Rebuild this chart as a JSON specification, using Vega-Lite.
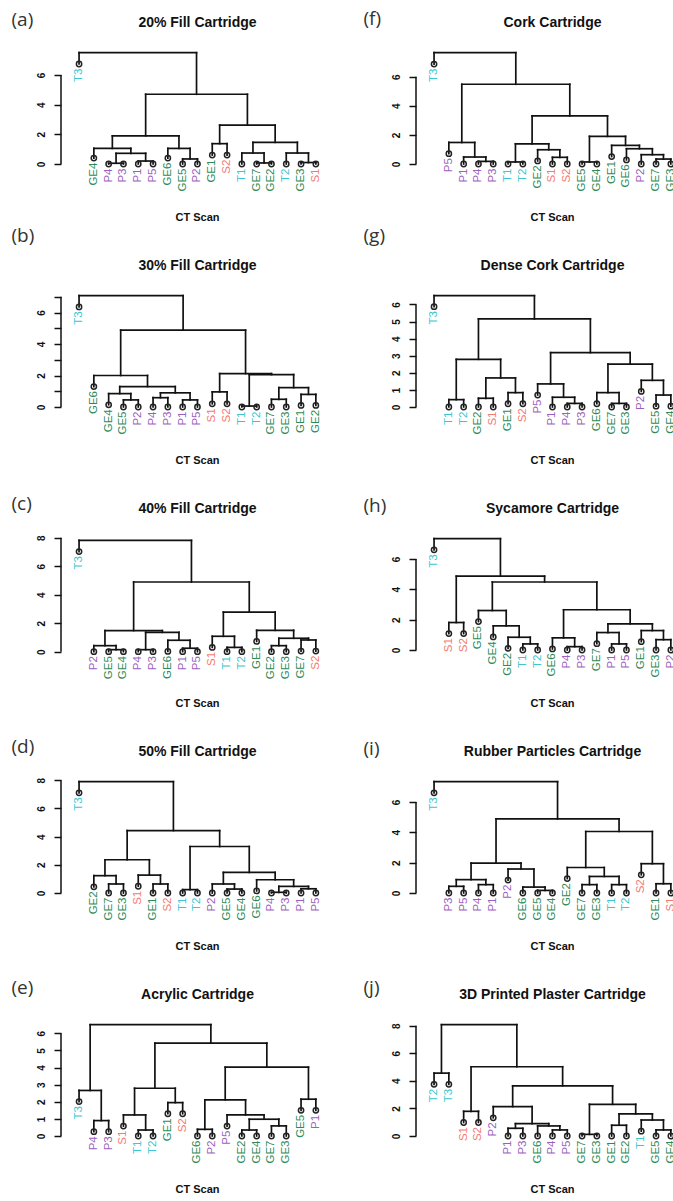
{
"$schema":"https://vega.github.io/schema/vega-lite/v6.json",
"padding":{"left":11,"top":9,"right":0,"bottom":0},
"background":"white",
"columns":2,
"bounds":"flush",
"spacing":{"row":98,"column":98},
"config":{
 "view":{"stroke":null},
 "font":"Liberation Sans",
 "axis":{"grid":false,"domain":false,"labelColor":"#111","titleColor":"#111","tickColor":"#111"},
 "axisLeft":{"tickSize":7,"tickWidth":1.5,"labelAngle":270,"labelAlign":"center","labelBaseline":"bottom","labelPadding":8,"labelOverlap":false,"labelFlush":false,"labelFont":"Liberation Sans","labelFontSize":10,"labelFontWeight":"bold","titleAngle":0,"titleAlign":"left","titleBaseline":"alphabetic","titleFont":"Open Sans","titleFontSize":19,"titleFontWeight":"normal","titleColor":"#333"},
 "axisBottom":{"labels":false,"ticks":false,"titleAlign":"center","titleBaseline":"alphabetic","titleFont":"Liberation Sans","titleFontSize":11,"titleFontWeight":"bold"},
 "axisTop":{"labels":false,"ticks":false,"titleAlign":"center","titleBaseline":"alphabetic","titleFont":"Liberation Sans","titleFontSize":14,"titleFontWeight":"bold"}
},
"datasets":{
"leaves":[
{"p":"a","i":1,"l":"T3","g":"T","h":6.74},{"p":"a","i":2,"l":"GE4","g":"GE","h":0.4},{"p":"a","i":3,"l":"P4","g":"P","h":0},{"p":"a","i":4,"l":"P3","g":"P","h":0},{"p":"a","i":5,"l":"P1","g":"P","h":0},{"p":"a","i":6,"l":"P5","g":"P","h":0},{"p":"a","i":7,"l":"GE6","g":"GE","h":0.4},{"p":"a","i":8,"l":"GE5","g":"GE","h":0},{"p":"a","i":9,"l":"P2","g":"P","h":0},{"p":"a","i":10,"l":"GE1","g":"GE","h":0.6},{"p":"a","i":11,"l":"S2","g":"S","h":0.6},{"p":"a","i":12,"l":"T1","g":"T","h":0},{"p":"a","i":13,"l":"GE7","g":"GE","h":0},{"p":"a","i":14,"l":"GE2","g":"GE","h":0},{"p":"a","i":15,"l":"T2","g":"T","h":0},{"p":"a","i":16,"l":"GE3","g":"GE","h":0},{"p":"a","i":17,"l":"S1","g":"S","h":0},
{"p":"f","i":1,"l":"T3","g":"T","h":6.87},{"p":"f","i":2,"l":"P5","g":"P","h":0.71},{"p":"f","i":3,"l":"P1","g":"P","h":0},{"p":"f","i":4,"l":"P4","g":"P","h":0},{"p":"f","i":5,"l":"P3","g":"P","h":0},{"p":"f","i":6,"l":"T1","g":"T","h":0},{"p":"f","i":7,"l":"T2","g":"T","h":0},{"p":"f","i":8,"l":"GE2","g":"GE","h":0.21},{"p":"f","i":9,"l":"S1","g":"S","h":0},{"p":"f","i":10,"l":"S2","g":"S","h":0},{"p":"f","i":11,"l":"GE5","g":"GE","h":0},{"p":"f","i":12,"l":"GE4","g":"GE","h":0},{"p":"f","i":13,"l":"GE1","g":"GE","h":0.51},{"p":"f","i":14,"l":"GE6","g":"GE","h":0.28},{"p":"f","i":15,"l":"P2","g":"P","h":0},{"p":"f","i":16,"l":"GE7","g":"GE","h":0},{"p":"f","i":17,"l":"GE3","g":"GE","h":0},
{"p":"b","i":1,"l":"T3","g":"T","h":6.36},{"p":"b","i":2,"l":"GE6","g":"GE","h":1.3},{"p":"b","i":3,"l":"GE4","g":"GE","h":0.14},{"p":"b","i":4,"l":"GE5","g":"GE","h":0},{"p":"b","i":5,"l":"P2","g":"P","h":0},{"p":"b","i":6,"l":"P4","g":"P","h":0},{"p":"b","i":7,"l":"P3","g":"P","h":0},{"p":"b","i":8,"l":"P1","g":"P","h":0},{"p":"b","i":9,"l":"P5","g":"P","h":0},{"p":"b","i":10,"l":"S1","g":"S","h":0.2},{"p":"b","i":11,"l":"S2","g":"S","h":0.2},{"p":"b","i":12,"l":"T1","g":"T","h":0},{"p":"b","i":13,"l":"T2","g":"T","h":0},{"p":"b","i":14,"l":"GE7","g":"GE","h":0},{"p":"b","i":15,"l":"GE3","g":"GE","h":0},{"p":"b","i":16,"l":"GE1","g":"GE","h":0.1},{"p":"b","i":17,"l":"GE2","g":"GE","h":0.1},
{"p":"g","i":1,"l":"T3","g":"T","h":5.87},{"p":"g","i":2,"l":"T1","g":"T","h":0},{"p":"g","i":3,"l":"T2","g":"T","h":0},{"p":"g","i":4,"l":"GE2","g":"GE","h":0},{"p":"g","i":5,"l":"S1","g":"S","h":0},{"p":"g","i":6,"l":"GE1","g":"GE","h":0.19},{"p":"g","i":7,"l":"S2","g":"S","h":0.19},{"p":"g","i":8,"l":"P5","g":"P","h":0.7},{"p":"g","i":9,"l":"P1","g":"P","h":0},{"p":"g","i":10,"l":"P4","g":"P","h":0},{"p":"g","i":11,"l":"P3","g":"P","h":0},{"p":"g","i":12,"l":"GE6","g":"GE","h":0.19},{"p":"g","i":13,"l":"GE7","g":"GE","h":0},{"p":"g","i":14,"l":"GE3","g":"GE","h":0},{"p":"g","i":15,"l":"P2","g":"P","h":0.91},{"p":"g","i":16,"l":"GE5","g":"GE","h":0.05},{"p":"g","i":17,"l":"GE4","g":"GE","h":0.05},
{"p":"c","i":1,"l":"T3","g":"T","h":7.03},{"p":"c","i":2,"l":"P2","g":"P","h":0},{"p":"c","i":3,"l":"GE5","g":"GE","h":0},{"p":"c","i":4,"l":"GE4","g":"GE","h":0},{"p":"c","i":5,"l":"P4","g":"P","h":0},{"p":"c","i":6,"l":"P3","g":"P","h":0},{"p":"c","i":7,"l":"GE6","g":"GE","h":0.02},{"p":"c","i":8,"l":"P1","g":"P","h":0},{"p":"c","i":9,"l":"P5","g":"P","h":0},{"p":"c","i":10,"l":"S1","g":"S","h":0.3},{"p":"c","i":11,"l":"T1","g":"T","h":0},{"p":"c","i":12,"l":"T2","g":"T","h":0},{"p":"c","i":13,"l":"GE1","g":"GE","h":0.72},{"p":"c","i":14,"l":"GE2","g":"GE","h":0},{"p":"c","i":15,"l":"GE3","g":"GE","h":0},{"p":"c","i":16,"l":"GE7","g":"GE","h":0.04},{"p":"c","i":17,"l":"S2","g":"S","h":0.04},
{"p":"h","i":1,"l":"T3","g":"T","h":6.6},{"p":"h","i":2,"l":"S1","g":"S","h":1.08},{"p":"h","i":3,"l":"S2","g":"S","h":1.08},{"p":"h","i":4,"l":"GE5","g":"GE","h":1.87},{"p":"h","i":5,"l":"GE4","g":"GE","h":0.86},{"p":"h","i":6,"l":"GE2","g":"GE","h":0.11},{"p":"h","i":7,"l":"T1","g":"T","h":0},{"p":"h","i":8,"l":"T2","g":"T","h":0},{"p":"h","i":9,"l":"GE6","g":"GE","h":0.07},{"p":"h","i":10,"l":"P4","g":"P","h":0},{"p":"h","i":11,"l":"P3","g":"P","h":0},{"p":"h","i":12,"l":"GE7","g":"GE","h":0.42},{"p":"h","i":13,"l":"P1","g":"P","h":0},{"p":"h","i":14,"l":"P5","g":"P","h":0},{"p":"h","i":15,"l":"GE1","g":"GE","h":0.55},{"p":"h","i":16,"l":"GE3","g":"GE","h":0},{"p":"h","i":17,"l":"P2","g":"P","h":0},
{"p":"d","i":1,"l":"T3","g":"T","h":7.11},{"p":"d","i":2,"l":"GE2","g":"GE","h":0.44},{"p":"d","i":3,"l":"GE7","g":"GE","h":0},{"p":"d","i":4,"l":"GE3","g":"GE","h":0},{"p":"d","i":5,"l":"S1","g":"S","h":0.48},{"p":"d","i":6,"l":"GE1","g":"GE","h":0},{"p":"d","i":7,"l":"S2","g":"S","h":0},{"p":"d","i":8,"l":"T1","g":"T","h":0},{"p":"d","i":9,"l":"T2","g":"T","h":0},{"p":"d","i":10,"l":"P2","g":"P","h":0},{"p":"d","i":11,"l":"GE5","g":"GE","h":0},{"p":"d","i":12,"l":"GE4","g":"GE","h":0},{"p":"d","i":13,"l":"GE6","g":"GE","h":0.15},{"p":"d","i":14,"l":"P4","g":"P","h":0},{"p":"d","i":15,"l":"P3","g":"P","h":0},{"p":"d","i":16,"l":"P1","g":"P","h":0},{"p":"d","i":17,"l":"P5","g":"P","h":0},
{"p":"i","i":1,"l":"T3","g":"T","h":6.6},{"p":"i","i":2,"l":"P3","g":"P","h":0},{"p":"i","i":3,"l":"P5","g":"P","h":0},{"p":"i","i":4,"l":"P4","g":"P","h":0},{"p":"i","i":5,"l":"P1","g":"P","h":0},{"p":"i","i":6,"l":"P2","g":"P","h":0.85},{"p":"i","i":7,"l":"GE6","g":"GE","h":0},{"p":"i","i":8,"l":"GE5","g":"GE","h":0},{"p":"i","i":9,"l":"GE4","g":"GE","h":0},{"p":"i","i":10,"l":"GE2","g":"GE","h":0.95},{"p":"i","i":11,"l":"GE7","g":"GE","h":0},{"p":"i","i":12,"l":"GE3","g":"GE","h":0},{"p":"i","i":13,"l":"T1","g":"T","h":0},{"p":"i","i":14,"l":"T2","g":"T","h":0},{"p":"i","i":15,"l":"S2","g":"S","h":1.2},{"p":"i","i":16,"l":"GE1","g":"GE","h":0},{"p":"i","i":17,"l":"S1","g":"S","h":0},
{"p":"e","i":1,"l":"T3","g":"T","h":2.01},{"p":"e","i":2,"l":"P4","g":"P","h":0.25},{"p":"e","i":3,"l":"P3","g":"P","h":0.25},{"p":"e","i":4,"l":"S1","g":"S","h":0.58},{"p":"e","i":5,"l":"T1","g":"T","h":0},{"p":"e","i":6,"l":"T2","g":"T","h":0},{"p":"e","i":7,"l":"GE1","g":"GE","h":1.3},{"p":"e","i":8,"l":"S2","g":"S","h":1.3},{"p":"e","i":9,"l":"GE6","g":"GE","h":0},{"p":"e","i":10,"l":"P2","g":"P","h":0},{"p":"e","i":11,"l":"P5","g":"P","h":0.58},{"p":"e","i":12,"l":"GE2","g":"GE","h":0},{"p":"e","i":13,"l":"GE4","g":"GE","h":0},{"p":"e","i":14,"l":"GE7","g":"GE","h":0},{"p":"e","i":15,"l":"GE3","g":"GE","h":0},{"p":"e","i":16,"l":"GE5","g":"GE","h":1.5},{"p":"e","i":17,"l":"P1","g":"P","h":1.5},
{"p":"j","i":1,"l":"T2","g":"T","h":3.75},{"p":"j","i":2,"l":"T3","g":"T","h":3.75},{"p":"j","i":3,"l":"S1","g":"S","h":0.98},{"p":"j","i":4,"l":"S2","g":"S","h":0.98},{"p":"j","i":5,"l":"P2","g":"P","h":1.32},{"p":"j","i":6,"l":"P1","g":"P","h":0},{"p":"j","i":7,"l":"P3","g":"P","h":0},{"p":"j","i":8,"l":"GE6","g":"GE","h":0},{"p":"j","i":9,"l":"P4","g":"P","h":0},{"p":"j","i":10,"l":"P5","g":"P","h":0},{"p":"j","i":11,"l":"GE7","g":"GE","h":0},{"p":"j","i":12,"l":"GE3","g":"GE","h":0},{"p":"j","i":13,"l":"GE1","g":"GE","h":0},{"p":"j","i":14,"l":"GE2","g":"GE","h":0},{"p":"j","i":15,"l":"T1","g":"T","h":0.35},{"p":"j","i":16,"l":"GE5","g":"GE","h":0},{"p":"j","i":17,"l":"GE4","g":"GE","h":0}
],
"merges":[
{"p":"a","xl":3,"xr":4,"hl":0,"hr":0,"h":0.05},{"p":"a","xl":5,"xr":6,"hl":0,"hr":0,"h":0.2},{"p":"a","xl":3.5,"xr":5.5,"hl":0.05,"hr":0.2,"h":0.72},{"p":"a","xl":2,"xr":4.5,"hl":0.4,"hr":0.72,"h":1.05},{"p":"a","xl":8,"xr":9,"hl":0,"hr":0,"h":0.34},{"p":"a","xl":7,"xr":8.5,"hl":0.4,"hr":0.34,"h":1.05},{"p":"a","xl":3.25,"xr":7.75,"hl":1.05,"hr":1.05,"h":1.9},{"p":"a","xl":10,"xr":11,"hl":0.6,"hr":0.6,"h":1.37},{"p":"a","xl":13,"xr":14,"hl":0,"hr":0,"h":0.07},{"p":"a","xl":12,"xr":13.5,"hl":0,"hr":0.07,"h":0.74},{"p":"a","xl":16,"xr":17,"hl":0,"hr":0,"h":0.1},{"p":"a","xl":15,"xr":16.5,"hl":0,"hr":0.1,"h":0.74},{"p":"a","xl":12.75,"xr":15.75,"hl":0.74,"hr":0.74,"h":1.46},{"p":"a","xl":10.5,"xr":14.25,"hl":1.37,"hr":1.46,"h":2.62},{"p":"a","xl":5.5,"xr":12.375,"hl":1.9,"hr":2.62,"h":4.7},{"p":"a","xl":1,"xr":8.9375,"hl":6.74,"hr":4.7,"h":7.5},
{"p":"f","xl":4,"xr":5,"hl":0,"hr":0,"h":0.18},{"p":"f","xl":3,"xr":4.5,"hl":0,"hr":0.18,"h":0.48},{"p":"f","xl":2,"xr":3.75,"hl":0.71,"hr":0.48,"h":1.48},{"p":"f","xl":6,"xr":7,"hl":0,"hr":0,"h":0.14},{"p":"f","xl":9,"xr":10,"hl":0,"hr":0,"h":0.46},{"p":"f","xl":8,"xr":9.5,"hl":0.21,"hr":0.46,"h":0.98},{"p":"f","xl":6.5,"xr":8.75,"hl":0.14,"hr":0.98,"h":1.39},{"p":"f","xl":11,"xr":12,"hl":0,"hr":0,"h":0.14},{"p":"f","xl":16,"xr":17,"hl":0,"hr":0,"h":0.34},{"p":"f","xl":15,"xr":16.5,"hl":0,"hr":0.34,"h":0.64},{"p":"f","xl":14,"xr":15.75,"hl":0.28,"hr":0.64,"h":1.05},{"p":"f","xl":13,"xr":14.875,"hl":0.51,"hr":1.05,"h":1.28},{"p":"f","xl":11.5,"xr":13.9375,"hl":0.14,"hr":1.28,"h":1.9},{"p":"f","xl":7.625,"xr":12.71875,"hl":1.39,"hr":1.9,"h":3.31},{"p":"f","xl":2.875,"xr":10.171875,"hl":1.48,"hr":3.31,"h":5.48},{"p":"f","xl":1,"xr":6.5234375,"hl":6.87,"hr":5.48,"h":7.65},
{"p":"b","xl":4,"xr":5,"hl":0,"hr":0,"h":0.45},{"p":"b","xl":3,"xr":4.5,"hl":0.14,"hr":0.45,"h":0.85},{"p":"b","xl":6,"xr":7,"hl":0,"hr":0,"h":0.59},{"p":"b","xl":8,"xr":9,"hl":0,"hr":0,"h":0.45},{"p":"b","xl":6.5,"xr":8.5,"hl":0.59,"hr":0.45,"h":0.9},{"p":"b","xl":3.75,"xr":7.5,"hl":0.85,"hr":0.9,"h":1.3},{"p":"b","xl":2,"xr":5.625,"hl":1.3,"hr":1.3,"h":2.0},{"p":"b","xl":10,"xr":11,"hl":0.2,"hr":0.2,"h":0.96},{"p":"b","xl":12,"xr":13,"hl":0,"hr":0,"h":0.06},{"p":"b","xl":14,"xr":15,"hl":0,"hr":0,"h":0.49},{"p":"b","xl":16,"xr":17,"hl":0.1,"hr":0.1,"h":0.8},{"p":"b","xl":14.5,"xr":16.5,"hl":0.49,"hr":0.8,"h":1.23},{"p":"b","xl":12.5,"xr":15.5,"hl":0.06,"hr":1.23,"h":2.06},{"p":"b","xl":10.5,"xr":14,"hl":0.96,"hr":2.06,"h":2.12},{"p":"b","xl":3.8125,"xr":12.25,"hl":2.0,"hr":2.12,"h":4.88},{"p":"b","xl":1,"xr":8.03125,"hl":6.36,"hr":4.88,"h":7.07},
{"p":"g","xl":2,"xr":3,"hl":0,"hr":0,"h":0.43},{"p":"g","xl":4,"xr":5,"hl":0,"hr":0,"h":0.51},{"p":"g","xl":6,"xr":7,"hl":0.19,"hr":0.19,"h":0.84},{"p":"g","xl":4.5,"xr":6.5,"hl":0.51,"hr":0.84,"h":1.7},{"p":"g","xl":2.5,"xr":5.5,"hl":0.43,"hr":1.7,"h":2.79},{"p":"g","xl":10,"xr":11,"hl":0,"hr":0,"h":0.21},{"p":"g","xl":9,"xr":10.5,"hl":0,"hr":0.21,"h":0.57},{"p":"g","xl":8,"xr":9.75,"hl":0.7,"hr":0.57,"h":1.35},{"p":"g","xl":13,"xr":14,"hl":0,"hr":0,"h":0.21},{"p":"g","xl":12,"xr":13.5,"hl":0.19,"hr":0.21,"h":0.84},{"p":"g","xl":16,"xr":17,"hl":0.05,"hr":0.05,"h":0.7},{"p":"g","xl":15,"xr":16.5,"hl":0.91,"hr":0.7,"h":1.56},{"p":"g","xl":12.75,"xr":15.75,"hl":0.84,"hr":1.56,"h":2.51},{"p":"g","xl":8.875,"xr":14.25,"hl":1.35,"hr":2.51,"h":3.18},{"p":"g","xl":4,"xr":11.5625,"hl":2.79,"hr":3.18,"h":5.15},{"p":"g","xl":1,"xr":7.78125,"hl":5.87,"hr":5.15,"h":6.51},
{"p":"c","xl":3,"xr":4,"hl":0,"hr":0,"h":0.14},{"p":"c","xl":2,"xr":3.5,"hl":0,"hr":0.14,"h":0.42},{"p":"c","xl":5,"xr":6,"hl":0,"hr":0,"h":0.14},{"p":"c","xl":8,"xr":9,"hl":0,"hr":0,"h":0.24},{"p":"c","xl":7,"xr":8.5,"hl":0.02,"hr":0.24,"h":0.8},{"p":"c","xl":5.5,"xr":7.75,"hl":0.14,"hr":0.8,"h":1.36},{"p":"c","xl":2.75,"xr":6.625,"hl":0.42,"hr":1.36,"h":1.48},{"p":"c","xl":11,"xr":12,"hl":0,"hr":0,"h":0.3},{"p":"c","xl":10,"xr":11.5,"hl":0.3,"hr":0.3,"h":1.08},{"p":"c","xl":14,"xr":15,"hl":0,"hr":0,"h":0.42},{"p":"c","xl":16,"xr":17,"hl":0.04,"hr":0.04,"h":0.82},{"p":"c","xl":14.5,"xr":16.5,"hl":0.42,"hr":0.82,"h":0.94},{"p":"c","xl":13,"xr":15.5,"hl":0.72,"hr":0.94,"h":1.5},{"p":"c","xl":10.75,"xr":14.25,"hl":1.08,"hr":1.5,"h":2.78},{"p":"c","xl":4.6875,"xr":12.5,"hl":1.48,"hr":2.78,"h":4.89},{"p":"c","xl":1,"xr":8.59375,"hl":7.03,"hr":4.89,"h":7.81},
{"p":"h","xl":2,"xr":3,"hl":1.08,"hr":1.08,"h":1.81},{"p":"h","xl":7,"xr":8,"hl":0,"hr":0,"h":0.4},{"p":"h","xl":6,"xr":7.5,"hl":0.11,"hr":0.4,"h":0.84},{"p":"h","xl":5,"xr":6.75,"hl":0.86,"hr":0.84,"h":1.59},{"p":"h","xl":4,"xr":5.875,"hl":1.87,"hr":1.59,"h":2.6},{"p":"h","xl":10,"xr":11,"hl":0,"hr":0,"h":0.22},{"p":"h","xl":9,"xr":10.5,"hl":0.07,"hr":0.22,"h":0.8},{"p":"h","xl":13,"xr":14,"hl":0,"hr":0,"h":0.4},{"p":"h","xl":12,"xr":13.5,"hl":0.42,"hr":0.4,"h":1.15},{"p":"h","xl":16,"xr":17,"hl":0,"hr":0,"h":0.68},{"p":"h","xl":15,"xr":16.5,"hl":0.55,"hr":0.68,"h":1.28},{"p":"h","xl":12.75,"xr":15.75,"hl":1.15,"hr":1.28,"h":1.72},{"p":"h","xl":9.75,"xr":14.25,"hl":0.8,"hr":1.72,"h":2.65},{"p":"h","xl":4.9375,"xr":12,"hl":2.6,"hr":2.65,"h":4.48},{"p":"h","xl":2.5,"xr":8.46875,"hl":1.81,"hr":4.48,"h":4.86},{"p":"h","xl":1,"xr":5.484375,"hl":6.6,"hr":4.86,"h":7.33},
{"p":"d","xl":3,"xr":4,"hl":0,"hr":0,"h":0.64},{"p":"d","xl":2,"xr":3.5,"hl":0.44,"hr":0.64,"h":1.23},{"p":"d","xl":6,"xr":7,"hl":0,"hr":0,"h":0.64},{"p":"d","xl":5,"xr":6.5,"hl":0.48,"hr":0.64,"h":1.27},{"p":"d","xl":2.75,"xr":5.75,"hl":1.23,"hr":1.27,"h":2.36},{"p":"d","xl":8,"xr":9,"hl":0,"hr":0,"h":0.24},{"p":"d","xl":11,"xr":12,"hl":0,"hr":0,"h":0.28},{"p":"d","xl":10,"xr":11.5,"hl":0,"hr":0.28,"h":0.64},{"p":"d","xl":14,"xr":15,"hl":0,"hr":0,"h":0.05},{"p":"d","xl":16,"xr":17,"hl":0,"hr":0,"h":0.3},{"p":"d","xl":14.5,"xr":16.5,"hl":0.05,"hr":0.3,"h":0.47},{"p":"d","xl":13,"xr":15.5,"hl":0.15,"hr":0.47,"h":0.94},{"p":"d","xl":10.75,"xr":14.25,"hl":0.64,"hr":0.94,"h":1.46},{"p":"d","xl":8.5,"xr":12.5,"hl":0.24,"hr":1.46,"h":3.3},{"p":"d","xl":4.25,"xr":10.5,"hl":2.36,"hr":3.3,"h":4.43},{"p":"d","xl":1,"xr":7.375,"hl":7.11,"hr":4.43,"h":7.9},
{"p":"i","xl":2,"xr":3,"hl":0,"hr":0,"h":0.44},{"p":"i","xl":4,"xr":5,"hl":0,"hr":0,"h":0.55},{"p":"i","xl":2.5,"xr":4.5,"hl":0.44,"hr":0.55,"h":0.88},{"p":"i","xl":8,"xr":9,"hl":0,"hr":0,"h":0.17},{"p":"i","xl":7,"xr":8.5,"hl":0,"hr":0.17,"h":0.39},{"p":"i","xl":6,"xr":7.75,"hl":0.85,"hr":0.39,"h":1.58},{"p":"i","xl":3.5,"xr":6.875,"hl":0.88,"hr":1.58,"h":1.97},{"p":"i","xl":11,"xr":12,"hl":0,"hr":0,"h":0.55},{"p":"i","xl":13,"xr":14,"hl":0,"hr":0,"h":0.55},{"p":"i","xl":11.5,"xr":13.5,"hl":0.55,"hr":0.55,"h":1.09},{"p":"i","xl":10,"xr":12.5,"hl":0.95,"hr":1.09,"h":1.68},{"p":"i","xl":16,"xr":17,"hl":0,"hr":0,"h":0.61},{"p":"i","xl":15,"xr":16.5,"hl":1.2,"hr":0.61,"h":1.93},{"p":"i","xl":11.25,"xr":15.75,"hl":1.68,"hr":1.93,"h":4.05},{"p":"i","xl":5.1875,"xr":13.5,"hl":1.97,"hr":4.05,"h":4.88},{"p":"i","xl":1,"xr":9.34375,"hl":6.6,"hr":4.88,"h":7.33},
{"p":"e","xl":2,"xr":3,"hl":0.25,"hr":0.25,"h":0.9},{"p":"e","xl":1,"xr":2.5,"hl":2.01,"hr":0.9,"h":2.66},{"p":"e","xl":5,"xr":6,"hl":0,"hr":0,"h":0.35},{"p":"e","xl":4,"xr":5.5,"hl":0.58,"hr":0.35,"h":1.23},{"p":"e","xl":7,"xr":8,"hl":1.3,"hr":1.3,"h":1.95},{"p":"e","xl":4.75,"xr":7.5,"hl":1.23,"hr":1.95,"h":2.79},{"p":"e","xl":9,"xr":10,"hl":0,"hr":0,"h":0.39},{"p":"e","xl":12,"xr":13,"hl":0,"hr":0,"h":0.35},{"p":"e","xl":14,"xr":15,"hl":0,"hr":0,"h":0.59},{"p":"e","xl":12.5,"xr":14.5,"hl":0.35,"hr":0.59,"h":0.98},{"p":"e","xl":11,"xr":13.5,"hl":0.58,"hr":0.98,"h":1.23},{"p":"e","xl":9.5,"xr":12.25,"hl":0.39,"hr":1.23,"h":2.11},{"p":"e","xl":16,"xr":17,"hl":1.5,"hr":1.5,"h":2.15},{"p":"e","xl":10.875,"xr":16.5,"hl":2.11,"hr":2.15,"h":4.02},{"p":"e","xl":6.125,"xr":13.6875,"hl":2.79,"hr":4.02,"h":5.43},{"p":"e","xl":1.75,"xr":9.90625,"hl":2.66,"hr":5.43,"h":6.5},
{"p":"j","xl":1,"xr":2,"hl":3.75,"hr":3.75,"h":4.56},{"p":"j","xl":3,"xr":4,"hl":0.98,"hr":0.98,"h":1.79},{"p":"j","xl":6,"xr":7,"hl":0,"hr":0,"h":0.56},{"p":"j","xl":9,"xr":10,"hl":0,"hr":0,"h":0.44},{"p":"j","xl":8,"xr":9.5,"hl":0,"hr":0.44,"h":0.73},{"p":"j","xl":6.5,"xr":8.75,"hl":0.56,"hr":0.73,"h":0.9},{"p":"j","xl":5,"xr":7.625,"hl":1.32,"hr":0.9,"h":2.13},{"p":"j","xl":11,"xr":12,"hl":0,"hr":0,"h":0.12},{"p":"j","xl":13,"xr":14,"hl":0,"hr":0,"h":0.78},{"p":"j","xl":16,"xr":17,"hl":0,"hr":0,"h":0.44},{"p":"j","xl":15,"xr":16.5,"hl":0.35,"hr":0.44,"h":1.16},{"p":"j","xl":13.5,"xr":15.75,"hl":0.78,"hr":1.16,"h":1.6},{"p":"j","xl":11.5,"xr":14.625,"hl":0.12,"hr":1.6,"h":2.3},{"p":"j","xl":6.3125,"xr":13.0625,"hl":2.13,"hr":2.3,"h":3.64},{"p":"j","xl":3.5,"xr":9.6875,"hl":1.79,"hr":3.64,"h":5.02},{"p":"j","xl":1.5,"xr":6.59375,"hl":4.56,"hr":5.02,"h":8.07}
]
},
"concat":[
{"width":257,"height":145,"layer":[
 {"data":{"name":"merges"},"transform":[{"filter":"datum.p=='a'"}],"mark":{"type":"rule","color":"#111","strokeWidth":1.7,"strokeCap":"square"},"encoding":{"x":{"field":"xl","type":"quantitative","scale":{"domain":[-0.22,17.145],"nice":false,"zero":false},"axis":{"orient":"bottom","title":"CT Scan","titleX":136,"titleY":24}},"x2":{"field":"xr"},"y":{"field":"h","type":"quantitative","scale":{"domain":[-2.156,7.615],"nice":false,"zero":false},"axis":{"values":[0,2,4,6],"tickCount":20,"format":"d","labelOverlap":false,"title":"(a)","titleX":-50,"titleY":-26}}}},
 {"data":{"name":"merges"},"transform":[{"filter":"datum.p=='a'"}],"mark":{"type":"rule","color":"#111","strokeWidth":1.7,"strokeCap":"square"},"encoding":{"x":{"field":"xl","type":"quantitative","axis":null},"y":{"field":"hl","type":"quantitative"},"y2":{"field":"h"}}},
 {"data":{"name":"merges"},"transform":[{"filter":"datum.p=='a'"}],"mark":{"type":"rule","color":"#111","strokeWidth":1.7,"strokeCap":"square"},"encoding":{"x":{"field":"xr","type":"quantitative","axis":null},"y":{"field":"hr","type":"quantitative"},"y2":{"field":"h"}}},
 {"data":{"values":[{}]},"mark":{"type":"rule","color":"#111","strokeWidth":1.5},"encoding":{"x":{"datum":-0.22,"axis":null},"y":{"datum":0},"y2":{"datum":6}}},
 {"data":{"name":"leaves"},"transform":[{"filter":"datum.p=='a'"}],"mark":{"type":"point","shape":"circle","filled":false,"size":28,"color":"#222","strokeWidth":1.5,"opacity":1},"encoding":{"x":{"field":"i","type":"quantitative","axis":{"orient":"top","title":"20% Fill Cartridge","titleX":136,"titleY":-24.7}},"y":{"field":"h","type":"quantitative"}}},
 {"data":{"name":"leaves"},"transform":[{"filter":"datum.p=='a'"}],"mark":{"type":"text","angle":270,"align":"right","baseline":"middle","dx":-4.5,"font":"Liberation Sans","fontSize":11.5},"encoding":{"x":{"field":"i","type":"quantitative","axis":null},"y":{"field":"h","type":"quantitative"},"text":{"field":"l"},"color":{"field":"g","type":"nominal","scale":{"domain":["GE","P","T","S"],"range":["#2E8B57","#9B5FC0","#3CC6D2","#F47A70"]},"legend":null}}}
]},
{"width":257,"height":145,"layer":[
 {"data":{"name":"merges"},"transform":[{"filter":"datum.p=='f'"}],"mark":{"type":"rule","color":"#111","strokeWidth":1.7,"strokeCap":"square"},"encoding":{"x":{"field":"xl","type":"quantitative","scale":{"domain":[-0.22,17.145],"nice":false,"zero":false},"axis":{"orient":"bottom","title":"CT Scan","titleX":136,"titleY":24}},"x2":{"field":"xr"},"y":{"field":"h","type":"quantitative","scale":{"domain":[-2.199,7.767],"nice":false,"zero":false},"axis":{"values":[0,2,4,6],"tickCount":20,"format":"d","labelOverlap":false,"title":"(f)","titleX":-53,"titleY":-27}}}},
 {"data":{"name":"merges"},"transform":[{"filter":"datum.p=='f'"}],"mark":{"type":"rule","color":"#111","strokeWidth":1.7,"strokeCap":"square"},"encoding":{"x":{"field":"xl","type":"quantitative","axis":null},"y":{"field":"hl","type":"quantitative"},"y2":{"field":"h"}}},
 {"data":{"name":"merges"},"transform":[{"filter":"datum.p=='f'"}],"mark":{"type":"rule","color":"#111","strokeWidth":1.7,"strokeCap":"square"},"encoding":{"x":{"field":"xr","type":"quantitative","axis":null},"y":{"field":"hr","type":"quantitative"},"y2":{"field":"h"}}},
 {"data":{"values":[{}]},"mark":{"type":"rule","color":"#111","strokeWidth":1.5},"encoding":{"x":{"datum":-0.22,"axis":null},"y":{"datum":0},"y2":{"datum":6}}},
 {"data":{"name":"leaves"},"transform":[{"filter":"datum.p=='f'"}],"mark":{"type":"point","shape":"circle","filled":false,"size":28,"color":"#222","strokeWidth":1.5,"opacity":1,"clip":true},"encoding":{"x":{"field":"i","type":"quantitative","axis":{"orient":"top","title":"Cork Cartridge","titleX":136,"titleY":-24.7}},"y":{"field":"h","type":"quantitative"}}},
 {"data":{"name":"leaves"},"transform":[{"filter":"datum.p=='f'"}],"mark":{"type":"text","angle":270,"align":"right","baseline":"middle","dx":-4.5,"font":"Liberation Sans","fontSize":11.5,"clip":true},"encoding":{"x":{"field":"i","type":"quantitative","axis":null},"y":{"field":"h","type":"quantitative"},"text":{"field":"l"},"color":{"field":"g","type":"nominal","scale":{"domain":["GE","P","T","S"],"range":["#2E8B57","#9B5FC0","#3CC6D2","#F47A70"]},"legend":null}}}
]},
{"width":257,"height":145,"layer":[
 {"data":{"name":"merges"},"transform":[{"filter":"datum.p=='b'"}],"mark":{"type":"rule","color":"#111","strokeWidth":1.7,"strokeCap":"square"},"encoding":{"x":{"field":"xl","type":"quantitative","scale":{"domain":[-0.22,17.145],"nice":false,"zero":false},"axis":{"orient":"bottom","title":"CT Scan","titleX":136,"titleY":24}},"x2":{"field":"xr"},"y":{"field":"h","type":"quantitative","scale":{"domain":[-2.033,7.178],"nice":false,"zero":false},"axis":{"values":[0,1,2,3,4,5,6,7],"tickCount":20,"format":"d","labelOverlap":false,"labelExpr":"datum.value % 2 == 0 ? datum.label : ''","title":"(b)","titleX":-50,"titleY":-53}}}},
 {"data":{"name":"merges"},"transform":[{"filter":"datum.p=='b'"}],"mark":{"type":"rule","color":"#111","strokeWidth":1.7,"strokeCap":"square"},"encoding":{"x":{"field":"xl","type":"quantitative","axis":null},"y":{"field":"hl","type":"quantitative"},"y2":{"field":"h"}}},
 {"data":{"name":"merges"},"transform":[{"filter":"datum.p=='b'"}],"mark":{"type":"rule","color":"#111","strokeWidth":1.7,"strokeCap":"square"},"encoding":{"x":{"field":"xr","type":"quantitative","axis":null},"y":{"field":"hr","type":"quantitative"},"y2":{"field":"h"}}},
 {"data":{"values":[{}]},"mark":{"type":"rule","color":"#111","strokeWidth":1.5},"encoding":{"x":{"datum":-0.22,"axis":null},"y":{"datum":0},"y2":{"datum":7}}},
 {"data":{"name":"leaves"},"transform":[{"filter":"datum.p=='b'"}],"mark":{"type":"point","shape":"circle","filled":false,"size":28,"color":"#222","strokeWidth":1.5,"opacity":1},"encoding":{"x":{"field":"i","type":"quantitative","axis":{"orient":"top","title":"30% Fill Cartridge","titleX":136,"titleY":-24.7}},"y":{"field":"h","type":"quantitative"}}},
 {"data":{"name":"leaves"},"transform":[{"filter":"datum.p=='b'"}],"mark":{"type":"text","angle":270,"align":"right","baseline":"middle","dx":-4.5,"font":"Liberation Sans","fontSize":11.5},"encoding":{"x":{"field":"i","type":"quantitative","axis":null},"y":{"field":"h","type":"quantitative"},"text":{"field":"l"},"color":{"field":"g","type":"nominal","scale":{"domain":["GE","P","T","S"],"range":["#2E8B57","#9B5FC0","#3CC6D2","#F47A70"]},"legend":null}}}
]},
{"width":257,"height":145,"layer":[
 {"data":{"name":"merges"},"transform":[{"filter":"datum.p=='g'"}],"mark":{"type":"rule","color":"#111","strokeWidth":1.7,"strokeCap":"square"},"encoding":{"x":{"field":"xl","type":"quantitative","scale":{"domain":[-0.22,17.145],"nice":false,"zero":false},"axis":{"orient":"bottom","title":"CT Scan","titleX":136,"titleY":24}},"x2":{"field":"xr"},"y":{"field":"h","type":"quantitative","scale":{"domain":[-1.872,6.61],"nice":false,"zero":false},"axis":{"values":[0,1,2,3,4,5,6],"tickCount":20,"format":"d","labelOverlap":false,"title":"(g)","titleX":-53,"titleY":-53}}}},
 {"data":{"name":"merges"},"transform":[{"filter":"datum.p=='g'"}],"mark":{"type":"rule","color":"#111","strokeWidth":1.7,"strokeCap":"square"},"encoding":{"x":{"field":"xl","type":"quantitative","axis":null},"y":{"field":"hl","type":"quantitative"},"y2":{"field":"h"}}},
 {"data":{"name":"merges"},"transform":[{"filter":"datum.p=='g'"}],"mark":{"type":"rule","color":"#111","strokeWidth":1.7,"strokeCap":"square"},"encoding":{"x":{"field":"xr","type":"quantitative","axis":null},"y":{"field":"hr","type":"quantitative"},"y2":{"field":"h"}}},
 {"data":{"values":[{}]},"mark":{"type":"rule","color":"#111","strokeWidth":1.5},"encoding":{"x":{"datum":-0.22,"axis":null},"y":{"datum":0},"y2":{"datum":6}}},
 {"data":{"name":"leaves"},"transform":[{"filter":"datum.p=='g'"}],"mark":{"type":"point","shape":"circle","filled":false,"size":28,"color":"#222","strokeWidth":1.5,"opacity":1,"clip":true},"encoding":{"x":{"field":"i","type":"quantitative","axis":{"orient":"top","title":"Dense Cork Cartridge","titleX":136,"titleY":-24.7}},"y":{"field":"h","type":"quantitative"}}},
 {"data":{"name":"leaves"},"transform":[{"filter":"datum.p=='g'"}],"mark":{"type":"text","angle":270,"align":"right","baseline":"middle","dx":-4.5,"font":"Liberation Sans","fontSize":11.5,"clip":true},"encoding":{"x":{"field":"i","type":"quantitative","axis":null},"y":{"field":"h","type":"quantitative"},"text":{"field":"l"},"color":{"field":"g","type":"nominal","scale":{"domain":["GE","P","T","S"],"range":["#2E8B57","#9B5FC0","#3CC6D2","#F47A70"]},"legend":null}}}
]},
{"width":257,"height":145,"layer":[
 {"data":{"name":"merges"},"transform":[{"filter":"datum.p=='c'"}],"mark":{"type":"rule","color":"#111","strokeWidth":1.7,"strokeCap":"square"},"encoding":{"x":{"field":"xl","type":"quantitative","scale":{"domain":[-0.22,17.145],"nice":false,"zero":false},"axis":{"orient":"bottom","title":"CT Scan","titleX":136,"titleY":24}},"x2":{"field":"xr"},"y":{"field":"h","type":"quantitative","scale":{"domain":[-2.13,8.05],"nice":false,"zero":false},"axis":{"values":[0,2,4,6,8],"tickCount":20,"format":"d","labelOverlap":false,"title":"(c)","titleX":-50,"titleY":-28}}}},
 {"data":{"name":"merges"},"transform":[{"filter":"datum.p=='c'"}],"mark":{"type":"rule","color":"#111","strokeWidth":1.7,"strokeCap":"square"},"encoding":{"x":{"field":"xl","type":"quantitative","axis":null},"y":{"field":"hl","type":"quantitative"},"y2":{"field":"h"}}},
 {"data":{"name":"merges"},"transform":[{"filter":"datum.p=='c'"}],"mark":{"type":"rule","color":"#111","strokeWidth":1.7,"strokeCap":"square"},"encoding":{"x":{"field":"xr","type":"quantitative","axis":null},"y":{"field":"hr","type":"quantitative"},"y2":{"field":"h"}}},
 {"data":{"values":[{}]},"mark":{"type":"rule","color":"#111","strokeWidth":1.5},"encoding":{"x":{"datum":-0.22,"axis":null},"y":{"datum":0},"y2":{"datum":8}}},
 {"data":{"name":"leaves"},"transform":[{"filter":"datum.p=='c'"}],"mark":{"type":"point","shape":"circle","filled":false,"size":28,"color":"#222","strokeWidth":1.5,"opacity":1},"encoding":{"x":{"field":"i","type":"quantitative","axis":{"orient":"top","title":"40% Fill Cartridge","titleX":136,"titleY":-24.7}},"y":{"field":"h","type":"quantitative"}}},
 {"data":{"name":"leaves"},"transform":[{"filter":"datum.p=='c'"}],"mark":{"type":"text","angle":270,"align":"right","baseline":"middle","dx":-4.5,"font":"Liberation Sans","fontSize":11.5},"encoding":{"x":{"field":"i","type":"quantitative","axis":null},"y":{"field":"h","type":"quantitative"},"text":{"field":"l"},"color":{"field":"g","type":"nominal","scale":{"domain":["GE","P","T","S"],"range":["#2E8B57","#9B5FC0","#3CC6D2","#F47A70"]},"legend":null}}}
]},
{"width":257,"height":145,"layer":[
 {"data":{"name":"merges"},"transform":[{"filter":"datum.p=='h'"}],"mark":{"type":"rule","color":"#111","strokeWidth":1.7,"strokeCap":"square"},"encoding":{"x":{"field":"xl","type":"quantitative","scale":{"domain":[-0.22,17.145],"nice":false,"zero":false},"axis":{"orient":"bottom","title":"CT Scan","titleX":136,"titleY":24}},"x2":{"field":"xr"},"y":{"field":"h","type":"quantitative","scale":{"domain":[-2.107,7.442],"nice":false,"zero":false},"axis":{"values":[0,2,4,6],"tickCount":20,"format":"d","labelOverlap":false,"title":"(h)","titleX":-53,"titleY":-26}}}},
 {"data":{"name":"merges"},"transform":[{"filter":"datum.p=='h'"}],"mark":{"type":"rule","color":"#111","strokeWidth":1.7,"strokeCap":"square"},"encoding":{"x":{"field":"xl","type":"quantitative","axis":null},"y":{"field":"hl","type":"quantitative"},"y2":{"field":"h"}}},
 {"data":{"name":"merges"},"transform":[{"filter":"datum.p=='h'"}],"mark":{"type":"rule","color":"#111","strokeWidth":1.7,"strokeCap":"square"},"encoding":{"x":{"field":"xr","type":"quantitative","axis":null},"y":{"field":"hr","type":"quantitative"},"y2":{"field":"h"}}},
 {"data":{"values":[{}]},"mark":{"type":"rule","color":"#111","strokeWidth":1.5},"encoding":{"x":{"datum":-0.22,"axis":null},"y":{"datum":0},"y2":{"datum":6}}},
 {"data":{"name":"leaves"},"transform":[{"filter":"datum.p=='h'"}],"mark":{"type":"point","shape":"circle","filled":false,"size":28,"color":"#222","strokeWidth":1.5,"opacity":1,"clip":true},"encoding":{"x":{"field":"i","type":"quantitative","axis":{"orient":"top","title":"Sycamore Cartridge","titleX":136,"titleY":-24.7}},"y":{"field":"h","type":"quantitative"}}},
 {"data":{"name":"leaves"},"transform":[{"filter":"datum.p=='h'"}],"mark":{"type":"text","angle":270,"align":"right","baseline":"middle","dx":-4.5,"font":"Liberation Sans","fontSize":11.5,"clip":true},"encoding":{"x":{"field":"i","type":"quantitative","axis":null},"y":{"field":"h","type":"quantitative"},"text":{"field":"l"},"color":{"field":"g","type":"nominal","scale":{"domain":["GE","P","T","S"],"range":["#2E8B57","#9B5FC0","#3CC6D2","#F47A70"]},"legend":null}}}
]},
{"width":257,"height":145,"layer":[
 {"data":{"name":"merges"},"transform":[{"filter":"datum.p=='d'"}],"mark":{"type":"rule","color":"#111","strokeWidth":1.7,"strokeCap":"square"},"encoding":{"x":{"field":"xl","type":"quantitative","scale":{"domain":[-0.22,17.145],"nice":false,"zero":false},"axis":{"orient":"bottom","title":"CT Scan","titleX":136,"titleY":24}},"x2":{"field":"xr"},"y":{"field":"h","type":"quantitative","scale":{"domain":[-2.271,8.021],"nice":false,"zero":false},"axis":{"values":[0,2,4,6,8],"tickCount":20,"format":"d","labelOverlap":false,"title":"(d)","titleX":-50,"titleY":-28}}}},
 {"data":{"name":"merges"},"transform":[{"filter":"datum.p=='d'"}],"mark":{"type":"rule","color":"#111","strokeWidth":1.7,"strokeCap":"square"},"encoding":{"x":{"field":"xl","type":"quantitative","axis":null},"y":{"field":"hl","type":"quantitative"},"y2":{"field":"h"}}},
 {"data":{"name":"merges"},"transform":[{"filter":"datum.p=='d'"}],"mark":{"type":"rule","color":"#111","strokeWidth":1.7,"strokeCap":"square"},"encoding":{"x":{"field":"xr","type":"quantitative","axis":null},"y":{"field":"hr","type":"quantitative"},"y2":{"field":"h"}}},
 {"data":{"values":[{}]},"mark":{"type":"rule","color":"#111","strokeWidth":1.5},"encoding":{"x":{"datum":-0.22,"axis":null},"y":{"datum":0},"y2":{"datum":8}}},
 {"data":{"name":"leaves"},"transform":[{"filter":"datum.p=='d'"}],"mark":{"type":"point","shape":"circle","filled":false,"size":28,"color":"#222","strokeWidth":1.5,"opacity":1},"encoding":{"x":{"field":"i","type":"quantitative","axis":{"orient":"top","title":"50% Fill Cartridge","titleX":136,"titleY":-24.7}},"y":{"field":"h","type":"quantitative"}}},
 {"data":{"name":"leaves"},"transform":[{"filter":"datum.p=='d'"}],"mark":{"type":"text","angle":270,"align":"right","baseline":"middle","dx":-4.5,"font":"Liberation Sans","fontSize":11.5},"encoding":{"x":{"field":"i","type":"quantitative","axis":null},"y":{"field":"h","type":"quantitative"},"text":{"field":"l"},"color":{"field":"g","type":"nominal","scale":{"domain":["GE","P","T","S"],"range":["#2E8B57","#9B5FC0","#3CC6D2","#F47A70"]},"legend":null}}}
]},
{"width":257,"height":145,"layer":[
 {"data":{"name":"merges"},"transform":[{"filter":"datum.p=='i'"}],"mark":{"type":"rule","color":"#111","strokeWidth":1.7,"strokeCap":"square"},"encoding":{"x":{"field":"xl","type":"quantitative","scale":{"domain":[-0.22,17.145],"nice":false,"zero":false},"axis":{"orient":"bottom","title":"CT Scan","titleX":136,"titleY":24}},"x2":{"field":"xr"},"y":{"field":"h","type":"quantitative","scale":{"domain":[-2.107,7.442],"nice":false,"zero":false},"axis":{"values":[0,2,4,6],"tickCount":20,"format":"d","labelOverlap":false,"title":"(i)","titleX":-53,"titleY":-26}}}},
 {"data":{"name":"merges"},"transform":[{"filter":"datum.p=='i'"}],"mark":{"type":"rule","color":"#111","strokeWidth":1.7,"strokeCap":"square"},"encoding":{"x":{"field":"xl","type":"quantitative","axis":null},"y":{"field":"hl","type":"quantitative"},"y2":{"field":"h"}}},
 {"data":{"name":"merges"},"transform":[{"filter":"datum.p=='i'"}],"mark":{"type":"rule","color":"#111","strokeWidth":1.7,"strokeCap":"square"},"encoding":{"x":{"field":"xr","type":"quantitative","axis":null},"y":{"field":"hr","type":"quantitative"},"y2":{"field":"h"}}},
 {"data":{"values":[{}]},"mark":{"type":"rule","color":"#111","strokeWidth":1.5},"encoding":{"x":{"datum":-0.22,"axis":null},"y":{"datum":0},"y2":{"datum":6}}},
 {"data":{"name":"leaves"},"transform":[{"filter":"datum.p=='i'"}],"mark":{"type":"point","shape":"circle","filled":false,"size":28,"color":"#222","strokeWidth":1.5,"opacity":1,"clip":true},"encoding":{"x":{"field":"i","type":"quantitative","axis":{"orient":"top","title":"Rubber Particles Cartridge","titleX":136,"titleY":-24.7}},"y":{"field":"h","type":"quantitative"}}},
 {"data":{"name":"leaves"},"transform":[{"filter":"datum.p=='i'"}],"mark":{"type":"text","angle":270,"align":"right","baseline":"middle","dx":-4.5,"font":"Liberation Sans","fontSize":11.5,"clip":true},"encoding":{"x":{"field":"i","type":"quantitative","axis":null},"y":{"field":"h","type":"quantitative"},"text":{"field":"l"},"color":{"field":"g","type":"nominal","scale":{"domain":["GE","P","T","S"],"range":["#2E8B57","#9B5FC0","#3CC6D2","#F47A70"]},"legend":null}}}
]},
{"width":257,"height":145,"layer":[
 {"data":{"name":"merges"},"transform":[{"filter":"datum.p=='e'"}],"mark":{"type":"rule","color":"#111","strokeWidth":1.7,"strokeCap":"square"},"encoding":{"x":{"field":"xl","type":"quantitative","scale":{"domain":[-0.22,17.145],"nice":false,"zero":false},"axis":{"orient":"bottom","title":"CT Scan","titleX":136,"titleY":24}},"x2":{"field":"xr"},"y":{"field":"h","type":"quantitative","scale":{"domain":[-1.869,6.6],"nice":false,"zero":false},"axis":{"values":[0,1,2,3,4,5,6],"tickCount":20,"format":"d","labelOverlap":false,"title":"(e)","titleX":-50,"titleY":-30}}}},
 {"data":{"name":"merges"},"transform":[{"filter":"datum.p=='e'"}],"mark":{"type":"rule","color":"#111","strokeWidth":1.7,"strokeCap":"square"},"encoding":{"x":{"field":"xl","type":"quantitative","axis":null},"y":{"field":"hl","type":"quantitative"},"y2":{"field":"h"}}},
 {"data":{"name":"merges"},"transform":[{"filter":"datum.p=='e'"}],"mark":{"type":"rule","color":"#111","strokeWidth":1.7,"strokeCap":"square"},"encoding":{"x":{"field":"xr","type":"quantitative","axis":null},"y":{"field":"hr","type":"quantitative"},"y2":{"field":"h"}}},
 {"data":{"values":[{}]},"mark":{"type":"rule","color":"#111","strokeWidth":1.5},"encoding":{"x":{"datum":-0.22,"axis":null},"y":{"datum":0},"y2":{"datum":6}}},
 {"data":{"name":"leaves"},"transform":[{"filter":"datum.p=='e'"}],"mark":{"type":"point","shape":"circle","filled":false,"size":28,"color":"#222","strokeWidth":1.5,"opacity":1},"encoding":{"x":{"field":"i","type":"quantitative","axis":{"orient":"top","title":"Acrylic Cartridge","titleX":136,"titleY":-24.7}},"y":{"field":"h","type":"quantitative"}}},
 {"data":{"name":"leaves"},"transform":[{"filter":"datum.p=='e'"}],"mark":{"type":"text","angle":270,"align":"right","baseline":"middle","dx":-4.5,"font":"Liberation Sans","fontSize":11.5},"encoding":{"x":{"field":"i","type":"quantitative","axis":null},"y":{"field":"h","type":"quantitative"},"text":{"field":"l"},"color":{"field":"g","type":"nominal","scale":{"domain":["GE","P","T","S"],"range":["#2E8B57","#9B5FC0","#3CC6D2","#F47A70"]},"legend":null}}}
]},
{"width":257,"height":145,"layer":[
 {"data":{"name":"merges"},"transform":[{"filter":"datum.p=='j'"}],"mark":{"type":"rule","color":"#111","strokeWidth":1.7,"strokeCap":"square"},"encoding":{"x":{"field":"xl","type":"quantitative","scale":{"domain":[-0.22,17.145],"nice":false,"zero":false},"axis":{"orient":"bottom","title":"CT Scan","titleX":136,"titleY":24}},"x2":{"field":"xr"},"y":{"field":"h","type":"quantitative","scale":{"domain":[-2.32,8.194],"nice":false,"zero":false},"axis":{"values":[0,2,4,6,8],"tickCount":20,"format":"d","labelOverlap":false,"title":"(j)","titleX":-53,"titleY":-30}}}},
 {"data":{"name":"merges"},"transform":[{"filter":"datum.p=='j'"}],"mark":{"type":"rule","color":"#111","strokeWidth":1.7,"strokeCap":"square"},"encoding":{"x":{"field":"xl","type":"quantitative","axis":null},"y":{"field":"hl","type":"quantitative"},"y2":{"field":"h"}}},
 {"data":{"name":"merges"},"transform":[{"filter":"datum.p=='j'"}],"mark":{"type":"rule","color":"#111","strokeWidth":1.7,"strokeCap":"square"},"encoding":{"x":{"field":"xr","type":"quantitative","axis":null},"y":{"field":"hr","type":"quantitative"},"y2":{"field":"h"}}},
 {"data":{"values":[{}]},"mark":{"type":"rule","color":"#111","strokeWidth":1.5},"encoding":{"x":{"datum":-0.22,"axis":null},"y":{"datum":0},"y2":{"datum":8}}},
 {"data":{"name":"leaves"},"transform":[{"filter":"datum.p=='j'"}],"mark":{"type":"point","shape":"circle","filled":false,"size":28,"color":"#222","strokeWidth":1.5,"opacity":1,"clip":true},"encoding":{"x":{"field":"i","type":"quantitative","axis":{"orient":"top","title":"3D Printed Plaster Cartridge","titleX":136,"titleY":-24.7}},"y":{"field":"h","type":"quantitative"}}},
 {"data":{"name":"leaves"},"transform":[{"filter":"datum.p=='j'"}],"mark":{"type":"text","angle":270,"align":"right","baseline":"middle","dx":-4.5,"font":"Liberation Sans","fontSize":11.5,"clip":true},"encoding":{"x":{"field":"i","type":"quantitative","axis":null},"y":{"field":"h","type":"quantitative"},"text":{"field":"l"},"color":{"field":"g","type":"nominal","scale":{"domain":["GE","P","T","S"],"range":["#2E8B57","#9B5FC0","#3CC6D2","#F47A70"]},"legend":null}}}
]}
]
}
